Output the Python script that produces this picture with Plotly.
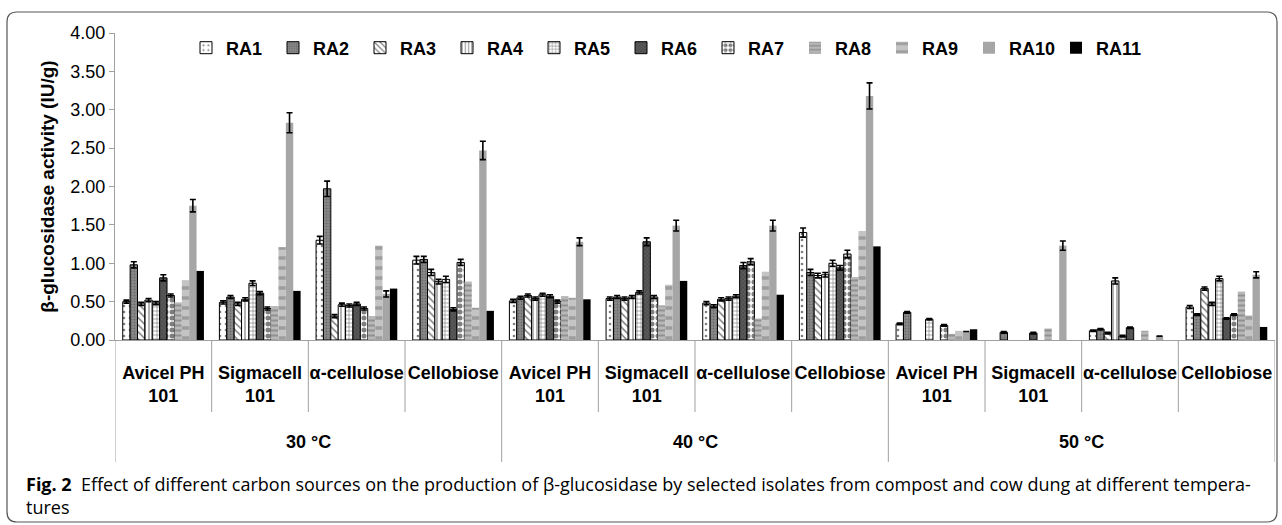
import plotly.graph_objects as go

# ---------------- data ----------------
temperature_labels = ["30 °C", "40 °C", "50 °C"]
carbon_labels = ["Avicel PH<br>101", "Sigmacell<br>101", "α-cellulose", "Cellobiose"]
temperatures = [t for t in temperature_labels for _ in carbon_labels]
carbon_sources = carbon_labels * 3
series_names = ["RA1", "RA2", "RA3", "RA4", "RA5", "RA6", "RA7", "RA8", "RA9", "RA10", "RA11"]

RA1 = [0.50, 0.49, 1.30, 1.04, 0.51, 0.54, 0.48, 1.40, 0.21, 0.00, 0.12, 0.43]
RA2 = [0.98, 0.56, 1.97, 1.05, 0.55, 0.56, 0.44, 0.88, 0.36, 0.10, 0.14, 0.33]
RA3 = [0.47, 0.47, 0.31, 0.88, 0.58, 0.54, 0.53, 0.84, 0.00, 0.00, 0.09, 0.67]
RA4 = [0.52, 0.53, 0.46, 0.76, 0.54, 0.56, 0.54, 0.85, 0.00, 0.00, 0.77, 0.47]
RA5 = [0.48, 0.74, 0.45, 0.79, 0.59, 0.62, 0.57, 1.00, 0.27, 0.00, 0.05, 0.80]
RA6 = [0.81, 0.61, 0.47, 0.40, 0.57, 1.28, 0.97, 0.94, 0.00, 0.09, 0.16, 0.28]
RA7 = [0.58, 0.41, 0.41, 1.01, 0.50, 0.56, 1.02, 1.12, 0.19, 0.00, 0.00, 0.33]
RA8 = [0.49, 0.44, 0.31, 0.76, 0.57, 0.45, 0.28, 0.82, 0.08, 0.15, 0.12, 0.63]
RA9 = [0.78, 1.21, 1.23, 0.42, 0.55, 0.72, 0.89, 1.42, 0.12, 0.00, 0.00, 0.32]
RA10 = [1.75, 2.83, 0.60, 2.47, 1.28, 1.49, 1.49, 3.18, 0.11, 1.23, 0.05, 0.85]
RA11 = [0.90, 0.64, 0.67, 0.38, 0.53, 0.77, 0.59, 1.22, 0.14, 0.00, 0.00, 0.17]

RA1_err = [0.02, 0.02, 0.05, 0.05, 0.02, 0.02, 0.02, 0.06, 0.01, None, 0.01, 0.02]
RA2_err = [0.04, 0.02, 0.10, 0.04, 0.02, 0.02, 0.02, 0.04, 0.01, 0.01, 0.01, 0.01]
RA3_err = [0.02, 0.02, 0.02, 0.04, 0.02, 0.02, 0.02, 0.03, None, None, 0.01, 0.02]
RA4_err = [0.02, 0.02, 0.02, 0.03, 0.02, 0.02, 0.02, 0.03, None, None, 0.04, 0.02]
RA5_err = [0.02, 0.03, 0.02, 0.04, 0.02, 0.02, 0.02, 0.04, 0.01, None, 0.01, 0.03]
RA6_err = [0.04, 0.02, 0.02, 0.02, 0.02, 0.05, 0.04, 0.03, None, 0.01, 0.01, 0.01]
RA7_err = [0.02, 0.02, 0.02, 0.04, 0.02, 0.02, 0.04, 0.05, 0.01, None, None, 0.01]
RA10_err = [0.08, 0.13, 0.04, 0.12, 0.05, 0.07, 0.07, 0.17, None, 0.06, None, 0.04]

y_ticks = [0, 0.5, 1, 1.5, 2, 2.5, 3, 3.5, 4]

values = [RA1, RA2, RA3, RA4, RA5, RA6, RA7, RA8, RA9, RA10, RA11]
errors = [RA1_err, RA2_err, RA3_err, RA4_err, RA5_err, RA6_err, RA7_err, None, None, RA10_err, None]

# unique category keys (temperature + carbon source)
keys = [f"{t} | {c}" for t, c in zip(temperatures, carbon_sources)]

# ---------------- styles ----------------
styles = [
    dict(bg="white", shape=".", fg="black", size=6, sol=0.15, line=1),
    dict(bg="#8a8a8a", shape=".", fg="#4a4a4a", size=3, sol=0.35, line=1),
    dict(bg="white", shape="\\", fg="black", size=5, sol=0.3, line=1),
    dict(bg="white", shape="|", fg="black", size=4, sol=0.3, line=1),
    dict(bg="white", shape="+", fg="black", size=4, sol=0.3, line=1),
    dict(bg="#5a5a5a", shape="x", fg="#222222", size=3, sol=0.3, line=1),
    dict(bg="white", shape=".", fg="black", size=6, sol=0.55, line=1),
    dict(bg="#b8b8b8", shape="-", fg="#6a6a6a", size=5, sol=0.4, line=0),
    dict(bg="#c4c4c4", shape="-", fg="#767676", size=10, sol=0.35, line=0),
    dict(bg="#a6a6a6", shape="", fg="#a6a6a6", size=8, sol=0.3, line=0),
    dict(bg="#000000", shape="", fg="#000000", size=8, sol=0.3, line=0),
]

W, H = 1282, 525
L, R, T, B = 115, 1275, 33, 340
FONT = "Liberation Sans, Arial, sans-serif"
AXCOL = "#a0a0a0"


def px(x):
    return (x - L) / (R - L)


def py(y):
    return (B - y) / (B - T)


fig = go.Figure()
for name, vals, err, st in zip(series_names, values, errors, styles):
    yv = [v if v > 0 else None for v in vals]
    kw = {}
    if err is not None:
        kw["error_y"] = dict(type="data", array=err, visible=True, color="black",
                             thickness=1.6, width=3)
    fig.add_trace(go.Bar(
        name=name, x=keys, y=yv,
        marker=dict(
            color=st["bg"],
            line=dict(color="black", width=st["line"]),
            pattern=dict(shape=st["shape"], fgcolor=st["fg"], bgcolor=st["bg"],
                         size=st["size"], solidity=st["sol"], fillmode="overlay"),
        ),
        **kw,
    ))

shapes = []
n = len(keys)
# category dividers below the axis (short inside a temperature, long between temperatures)
for k in range(n + 1):
    xb = k - 0.5
    long_div = (k % len(carbon_labels) == 0)
    shapes.append(dict(type="line", xref="x", yref="paper", x0=xb, x1=xb,
                       y0=0, y1=py(462 if long_div else 412),
                       line=dict(color=AXCOL, width=1)))

# rounded border around the whole figure + caption
x0, y0, x1, y1, r = 7, 12, 1277, 522, 10
path = (f"M {px(x0 + r)},{py(y0)} L {px(x1 - r)},{py(y0)} Q {px(x1)},{py(y0)} {px(x1)},{py(y0 + r)} "
        f"L {px(x1)},{py(y1 - r)} Q {px(x1)},{py(y1)} {px(x1 - r)},{py(y1)} "
        f"L {px(x0 + r)},{py(y1)} Q {px(x0)},{py(y1)} {px(x0)},{py(y1 - r)} "
        f"L {px(x0)},{py(y0 + r)} Q {px(x0)},{py(y0)} {px(x0 + r)},{py(y0)} Z")
shapes.append(dict(type="path", xref="paper", yref="paper", path=path,
                   line=dict(color="#555555", width=1.2), layer="above"))

annotations = []
for i, t in enumerate(temperature_labels):
    xc = i * len(carbon_labels) + (len(carbon_labels) - 1) / 2
    annotations.append(dict(xref="x", yref="paper", x=xc, y=py(442), text=f"<b>{t}</b>",
                            showarrow=False, xanchor="center", yanchor="middle",
                            font=dict(size=18, family=FONT, color="black")))
annotations.append(dict(
    xref="paper", yref="paper", x=px(24), y=py(470), xanchor="left", yanchor="top",
    align="left", showarrow=False,
    text=("<b>Fig. 2</b>  Effect of different carbon sources on the production of β-glucosidase by selected "
          "isolates from compost and cow dung at different tempera-<br>tures"),
    font=dict(size=18, family="Open Sans, sans-serif", color="black"),
))

fig.update_layout(
    width=W, height=H,
    margin=dict(l=L, r=W - R, t=T, b=H - B, pad=0),
    paper_bgcolor="white", plot_bgcolor="white",
    barmode="group", bargap=0.16, bargroupgap=0.0,
    font=dict(family=FONT, color="black"),
    showlegend=True,
    legend=dict(orientation="h", x=px(186), y=py(48), xanchor="left", yanchor="middle",
                font=dict(size=18, family=FONT, weight="bold"),
                entrywidth=42, entrywidthmode="pixels", itemwidth=30,
                bgcolor="rgba(0,0,0,0)", tracegroupgap=0),
    xaxis=dict(type="category", tickvals=keys, ticktext=carbon_sources,
               showline=True, linecolor=AXCOL, linewidth=1,
               ticks="", tickangle=0, ticklabelstandoff=16,
               tickfont=dict(size=18, family=FONT, weight="bold"),
               showgrid=False, range=[-0.5, n - 0.5]),
    yaxis=dict(range=[0, 4], tickvals=y_ticks, tickformat=".2f", showline=True,
               linecolor=AXCOL, linewidth=1, ticks="outside", tickcolor=AXCOL, ticklen=5,
               showgrid=False, zeroline=False,
               tickfont=dict(size=18, family=FONT),
               title=dict(text="<b>β-glucosidase activity (IU/g)</b>", standoff=10,
                          font=dict(size=19, family=FONT))),
    shapes=shapes,
    annotations=annotations,
)

fig.write_html("out.html")
